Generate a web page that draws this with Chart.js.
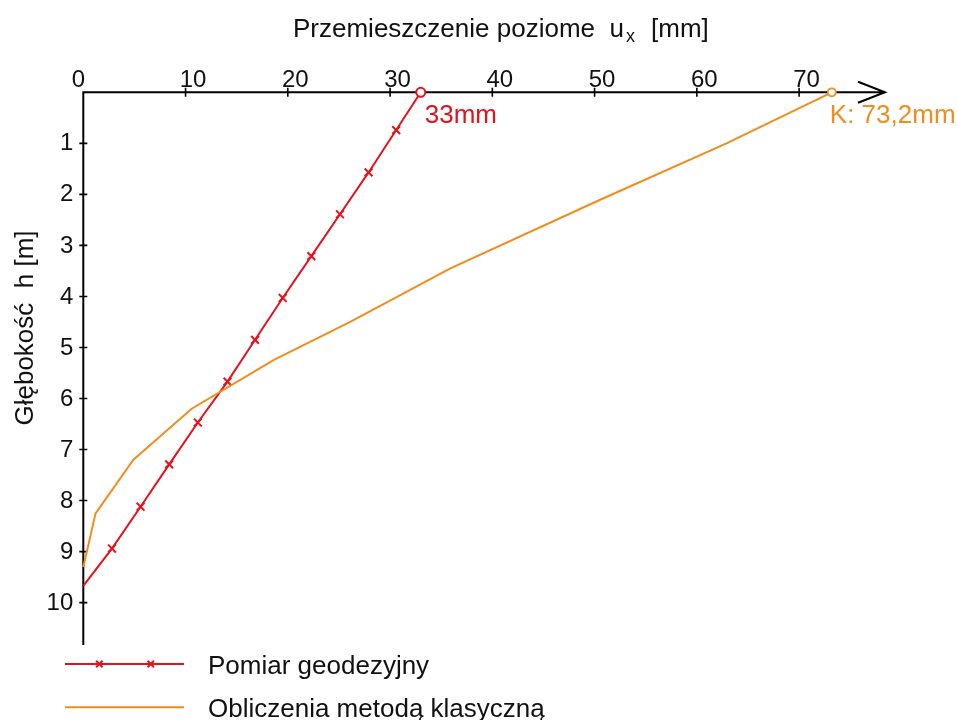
<!DOCTYPE html>
<html lang="pl">
<head>
<meta charset="utf-8">
<title>Przemieszczenie poziome</title>
<script src="https://cdn.jsdelivr.net/npm/chart.js@4.4.0/dist/chart.umd.min.js"></script>
<style>
  html, body { margin: 0; padding: 0; background: #fff; }
  canvas { display: block; }
</style>
</head>
<body>
<canvas id="chart-ux" width="958" height="720"></canvas>
<script>
// Pomiar geodezyjny: głębokość [m] i przemieszczenie ux [mm]
const pomiarGlebokosc = [0, 0.74, 1.57, 2.39, 3.21, 4.03, 4.85, 5.67, 6.47, 7.29, 8.12, 8.94, 9.67];
const pomiarUx = [33, 30.6, 27.9, 25.1, 22.3, 19.5, 16.8, 14.1, 11.2, 8.4, 5.6, 2.8, 0];

// Obliczenia metodą klasyczną
const klasycznaGlebokosc = [0, 1.0, 2.1, 3.45, 4.5, 5.25, 6.2, 7.2, 8.25, 9.3];
const klasycznaUx = [73.2, 62.9, 50.6, 35.9, 26.1, 18.6, 10.6, 4.9, 1.2, 0];

// podziałki osi
const ticksUx = [0, 10, 20, 30, 40, 50, 60, 70];
const ticksGlebokosc = [1, 2, 3, 4, 5, 6, 7, 8, 9, 10];

const seriesNames = ['Pomiar geodezyjny', 'Obliczenia metodą klasyczną'];
const valueLabels = ['33mm', 'K: 73,2mm'];

const COLOR_POMIAR = '#e5121c';
const COLOR_KLASYCZNA = '#f28c1c';
const FONT = "'Liberation Sans', Arial, sans-serif";

function toPoints(xs, ys) {
    return xs.map(function (x, i) {
        return { x: x, y: ys[i] };
    });
}

// krzyżyk jak w legendzie
function drawCross(ctx, x, y, r) {
    ctx.beginPath();
    ctx.moveTo(x - r, y - r); ctx.lineTo(x + r, y + r);
    ctx.moveTo(x - r, y + r); ctx.lineTo(x + r, y - r);
    ctx.stroke();
}

// osie rysowane ręcznie: pozioma u góry ze strzałką, pionowa w dół
const axesPlugin = {
    id: 'axesPlugin',
    beforeDatasetsDraw(chart) {
        const ctx = chart.ctx;
        const xs = chart.scales.x;
        const ys = chart.scales.y;
        const area = chart.chartArea;
        const x0 = xs.getPixelForValue(0);
        const y0 = ys.getPixelForValue(0);

        ctx.save();
        ctx.strokeStyle = '#000';
        ctx.lineWidth = 2;
        ctx.beginPath();
        ctx.moveTo(x0, area.bottom);
        ctx.lineTo(x0, y0);
        ctx.lineTo(area.right, y0);
        ctx.moveTo(area.right - 27, y0 - 10.5);
        ctx.lineTo(area.right, y0);
        ctx.lineTo(area.right - 27, y0 + 10.5);
        ctx.stroke();

        ctx.lineWidth = 1.6;
        ctx.beginPath();
        ticksUx.forEach(function (v) {
            if (v === 0) return;
            const px = xs.getPixelForValue(v);
            ctx.moveTo(px, y0 - 4.5);
            ctx.lineTo(px, y0 + 4.5);
        });
        ticksGlebokosc.forEach(function (v) {
            const py = ys.getPixelForValue(v);
            ctx.moveTo(x0 - 4, py);
            ctx.lineTo(x0 + 4, py);
        });
        ctx.stroke();

        ctx.fillStyle = '#111';
        ctx.font = '24px ' + FONT;
        ctx.textAlign = 'center';
        ctx.textBaseline = 'alphabetic';
        ticksUx.forEach(function (v) {
            const px = xs.getPixelForValue(v);
            const shift = v === 0 ? -5 : 7.5;
            ctx.fillText(String(v), px + shift, y0 - 5.5);
        });
        ctx.textAlign = 'right';
        ctx.textBaseline = 'middle';
        ticksGlebokosc.forEach(function (v) {
            const py = ys.getPixelForValue(v);
            ctx.fillText(String(v), x0 - 10, py + 0.5);
        });

        // tytuł osi poziomej z indeksem dolnym
        ctx.font = '26px ' + FONT;
        ctx.textAlign = 'left';
        ctx.textBaseline = 'alphabetic';
        const head = 'Przemieszczenie poziome  u';
        ctx.fillText(head, 293, 37);
        const wHead = ctx.measureText(head).width;
        ctx.font = '18px ' + FONT;
        ctx.fillText('x', 293 + wHead + 2, 42);
        ctx.font = '26px ' + FONT;
        ctx.fillText('[mm]', 651, 37);

        // tytuł osi pionowej
        ctx.save();
        ctx.translate(33, 328);
        ctx.rotate(-Math.PI / 2);
        ctx.textAlign = 'center';
        ctx.fillText('Głębokość  h [m]', 0, 0);
        ctx.restore();

        ctx.restore();
    },
    afterDatasetsDraw(chart) {
        const ctx = chart.ctx;
        const xs = chart.scales.x;
        const ys = chart.scales.y;

        ctx.save();
        ctx.font = '26px ' + FONT;
        ctx.textAlign = 'left';
        ctx.textBaseline = 'alphabetic';

        // opisy wartości w punkcie h = 0
        const pPx = xs.getPixelForValue(pomiarUx[0]);
        const kPx = xs.getPixelForValue(klasycznaUx[0]);
        const yTop = ys.getPixelForValue(0);
        ctx.fillStyle = COLOR_POMIAR;
        ctx.fillText(valueLabels[0], pPx + 4, yTop + 30.5);
        ctx.fillStyle = COLOR_KLASYCZNA;
        ctx.fillText(valueLabels[1], kPx - 2, yTop + 30.5);

        // legenda
        const rows = [
            { y: 664, color: COLOR_POMIAR, cross: true },
            { y: 707.3, color: COLOR_KLASYCZNA, cross: false }
        ];
        rows.forEach(function (row, i) {
            ctx.strokeStyle = row.color;
            ctx.lineWidth = 2;
            ctx.beginPath();
            ctx.moveTo(65, row.y);
            ctx.lineTo(184, row.y);
            ctx.stroke();
            if (row.cross) {
                drawCross(ctx, 99.3, row.y, 3.2);
                drawCross(ctx, 150.7, row.y, 3.2);
            }
            ctx.fillStyle = '#111';
            ctx.fillText(seriesNames[i], 208, row.y + 9.5);
        });
        ctx.restore();
    }
};

const datasets = [
    {
        label: seriesNames[1],
        data: toPoints(klasycznaUx, klasycznaGlebokosc),
        showLine: true,
        borderColor: COLOR_KLASYCZNA,
        borderWidth: 2,
        tension: 0,
        pointStyle: 'circle',
        pointRadius: function (c) { return c.dataIndex === 0 ? 4 : 0; },
        pointBorderColor: COLOR_KLASYCZNA,
        pointBackgroundColor: '#fff',
        pointBorderWidth: 1.8,
        clip: false
    },
    {
        label: seriesNames[0],
        data: toPoints(pomiarUx, pomiarGlebokosc),
        showLine: true,
        borderColor: COLOR_POMIAR,
        borderWidth: 2,
        tension: 0,
        pointStyle: function (c) { return c.dataIndex === 0 ? 'circle' : 'crossRot'; },
        pointRadius: function (c) {
            if (c.dataIndex === pomiarUx.length - 1) return 0;
            return c.dataIndex === 0 ? 4.5 : 5.5;
        },
        pointBorderColor: COLOR_POMIAR,
        pointBackgroundColor: '#fff',
        pointBorderWidth: 2,
        clip: false
    }
];

const ctx = document.getElementById('chart-ux').getContext('2d');
const chart = new Chart(ctx, {
    type: 'scatter',
    data: { datasets: datasets },
    options: {
        responsive: false,
        animation: false,
        layout: {
            padding: { left: 83.3, top: 92.3, right: 73, bottom: 75 }
        },
        scales: {
            x: { type: 'linear', min: 0, max: 78.4, display: false },
            y: { type: 'linear', min: 0, max: 10.83, reverse: true, display: false }
        },
        plugins: {
            legend: { display: false },
            tooltip: { enabled: false }
        }
    },
    plugins: [axesPlugin]
});
</script>
</body>
</html>
